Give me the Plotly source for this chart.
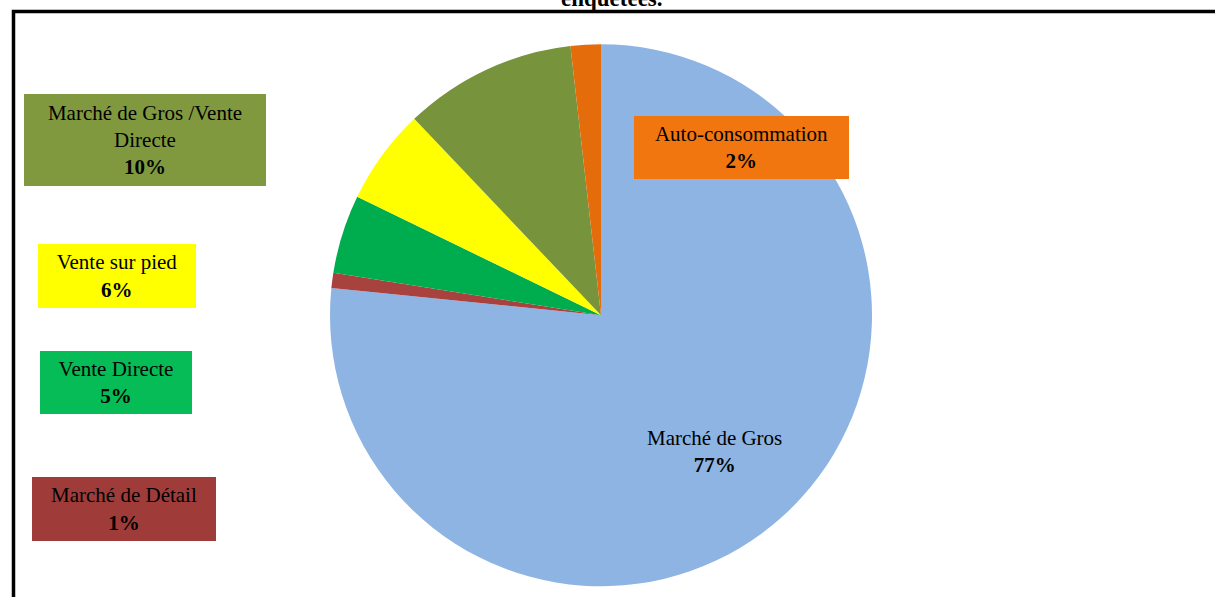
import plotly.graph_objects as go

# ---- data ----
categories = ["Marché de Gros", "Marché de Détail", "Vente Directe",
              "Vente sur pied", "Marché de Gros /Vente Directe", "Auto-consommation"]
label_text = ["Marché de Gros", "Marché de Détail", "Vente Directe",
              "Vente sur pied", "Marché de Gros /Vente<br>Directe", "Auto-consommation"]
shares = [76.6, 0.9, 4.7, 5.7, 10.3, 1.8]
pct_text = ["77%", "1%", "5%", "6%", "10%", "2%"]
title_text = "enquêtées."

# ---- styles ----
slice_colors = ["#8EB4E3", "#A7423F", "#00AD4E", "#FFFF00", "#77933C", "#E46C0A"]
box_colors = [None, "#9F3C3A", "#06BC56", "#FFFF00", "#80993F", "#F2760F"]
# label box centres (px in the final screenshot), sizes (px)
box_pos = [(714, 451), (124, 509), (116, 382.5), (117, 276), (145, 140), (741.5, 147.5)]
box_size = [(None, None), (184, 64), (152, 63), (158, 64), (242, 92), (215, 63)]

W, H = 1215, 597
FONT = "Liberation Serif, Times New Roman, serif"


def px(x):
    return x / W


def py(y):
    return 1 - y / H


fig = go.Figure()
fig.add_trace(go.Pie(
    labels=categories,
    values=shares,
    sort=False,
    direction="clockwise",
    rotation=0,
    marker=dict(colors=slice_colors, line=dict(width=0)),
    textinfo="none",
    hoverinfo="label+percent",
    showlegend=False,
    domain=dict(x=[px(601 - 271), px(601 + 271)],
                y=[py(586.5), py(44)]),
))

annotations = []
for i in range(len(categories)):
    cx, cy = box_pos[i]
    bw, bh = box_size[i]
    ann = dict(
        x=px(cx), y=py(cy), xref="paper", yref="paper",
        xanchor="center", yanchor="middle",
        text=f"{label_text[i]}<br><b>{pct_text[i]}</b>",
        showarrow=False, align="center",
        font=dict(family=FONT, size=21, color="black"),
        borderpad=0, borderwidth=0,
    )
    if box_colors[i]:
        ann["bgcolor"] = box_colors[i]
        ann["width"] = bw
        ann["height"] = bh
    annotations.append(ann)

annotations.append(dict(
    x=px(612), y=py(13), xref="paper", yref="paper",
    xanchor="center", yanchor="bottom",
    text=f"<b>{title_text}</b>", showarrow=False,
    font=dict(family=FONT, size=23, color="black"),
))

fig.update_layout(
    width=W, height=H,
    margin=dict(l=0, r=0, t=0, b=0),
    paper_bgcolor="white", plot_bgcolor="white",
    annotations=annotations,
    shapes=[dict(type="rect", xref="paper", yref="paper",
                 x0=px(13.5), x1=1.05, y0=-0.05, y1=py(11.5),
                 line=dict(color="black", width=3.5), fillcolor="rgba(0,0,0,0)",
                 layer="above")],
)

fig.write_html("out.html",
               config={"displayModeBar": False},
               post_script="document.body.style.margin='0';document.body.style.overflow='hidden';")
